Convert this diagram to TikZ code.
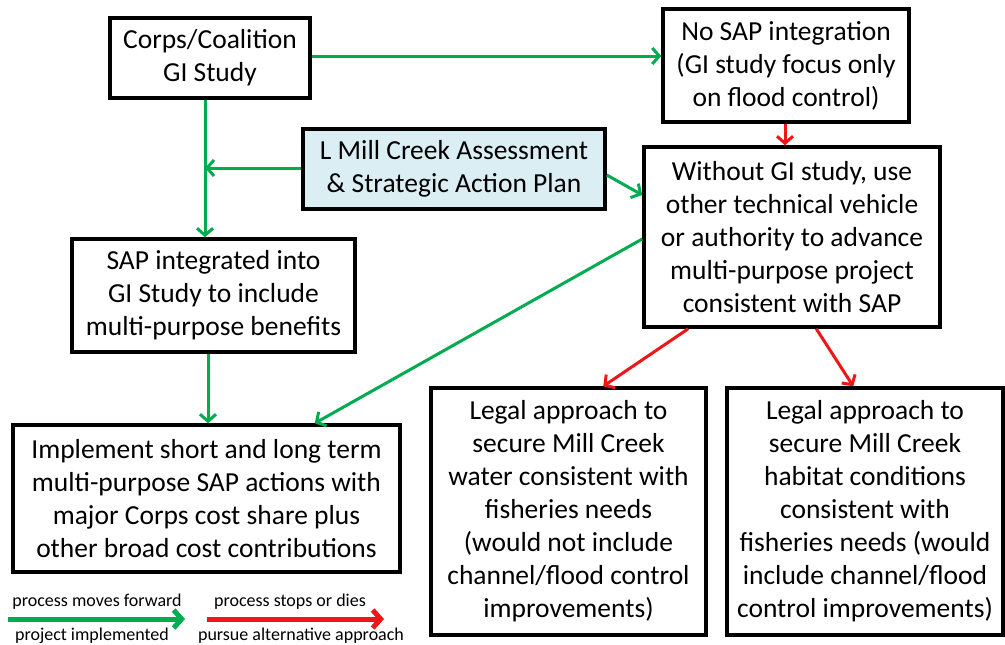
\documentclass[tikz,border=0pt]{standalone}
\usepackage{fontspec}
\setmainfont{Carlito}
\usetikzlibrary{arrows.meta}
\definecolor{grn}{RGB}{0,172,80}
\definecolor{rd}{RGB}{238,22,22}
\definecolor{lblue}{RGB}{219,238,244}
\begin{document}
\begin{tikzpicture}[x=1pt,y=-1pt,
  box/.style={draw=black,line width=3.5pt,align=center,inner sep=0pt,
    font=\fontsize{27.5}{33}\selectfont},
  ga/.style={draw=grn,line width=3pt,-{Straight Barb[length=7pt,width=16pt,line width=3pt]}},
  ra/.style={draw=rd,line width=3pt,-{Straight Barb[length=7pt,width=16pt,line width=3pt]}},
  lga/.style={draw=grn,line width=5pt,-{Straight Barb[length=8pt,width=18pt,line width=5pt]}},
  lra/.style={draw=rd,line width=5pt,-{Straight Barb[length=8pt,width=18pt,line width=5pt]}},
  lg/.style={font=\fontsize{18}{20}\selectfont,inner sep=0pt}]
\useasboundingbox (0,0) rectangle (1005,645);
\fill[white] (0,0) rectangle (1005,645);

\node[box,minimum width=200,minimum height=80] (corps) at (210,58) {Corps/Coalition\\GI Study};
\node[box,minimum width=246,minimum height=113] (nosap) at (786,65.5) {No SAP integration\\(GI study focus only\\on flood control)};
\node[box,fill=lblue,minimum width=302,minimum height=80] (mill) at (454,169) {L Mill Creek Assessment\\\& Strategic Action Plan};
\node[box,minimum width=296,minimum height=180] (without) at (792,237) {Without GI study, use\\other technical vehicle\\or authority to advance\\multi-purpose project\\consistent with SAP};
\node[box,minimum width=283,minimum height=113] (sap) at (213.5,295.5) {SAP integrated into\\GI Study to include\\multi-purpose benefits};
\node[box,minimum width=387,minimum height=147] (impl) at (206.5,498.5) {Implement short and long term\\multi-purpose SAP actions with\\major Corps cost share plus\\other broad cost contributions};
\node[box,minimum width=275,minimum height=247] (legal1) at (568.5,511.5) {Legal approach to\\secure Mill Creek\\water consistent with\\fisheries needs\\(would not include\\channel/flood control\\improvements)};
\node[box,minimum width=276,minimum height=247] (legal2) at (865,511.5) {Legal approach to\\secure Mill Creek\\habitat conditions\\consistent with\\fisheries needs (would\\include channel/flood\\control improvements)};

\coordinate (j) at (205,168);
\coordinate (k) at (208,400);
\coordinate (c1) at ([yshift=2pt]corps.east);
\draw[ga] (c1) -- (nosap.west |- c1);
\draw[ga] (corps.south -| j) -- (sap.north -| j);
\draw[ga] (mill.west |- j) -- (j);
\draw[ga] ([yshift=-6pt]mill.east) -- ([yshift=42pt]without.west);
\draw[ga] ([yshift=-2pt]without.west) -- ([xshift=-87pt]impl.north east);
\draw[ga] (sap.south -| k) -- (impl.north -| k);
\draw[ra] ([xshift=-1pt]nosap.south) -- ([xshift=-1pt]nosap.south |- without.north);
\draw[ra] ([xshift=46pt]without.south west) -- ([xshift=174pt]legal1.north west);
\draw[ra] ([xshift=174pt]without.south west) -- ([xshift=128pt]legal2.north west);

\coordinate (g1) at (8,619);
\coordinate (g2) at (185,619);
\coordinate (r1) at (207,619);
\coordinate (r2) at (384,619);
\draw[lga] (g1) -- (g2);
\draw[lra] (r1) -- (r2);
\node[lg,anchor=base] (t1) at (97,606) {process moves forward};
\node[lg,anchor=base] (t2) at (92,640) {project implemented};
\node[lg,anchor=base] (t3) at (290,606) {process stops or dies};
\node[lg,anchor=base] (t4) at (301,640) {pursue alternative approach};
\end{tikzpicture}
\end{document}
